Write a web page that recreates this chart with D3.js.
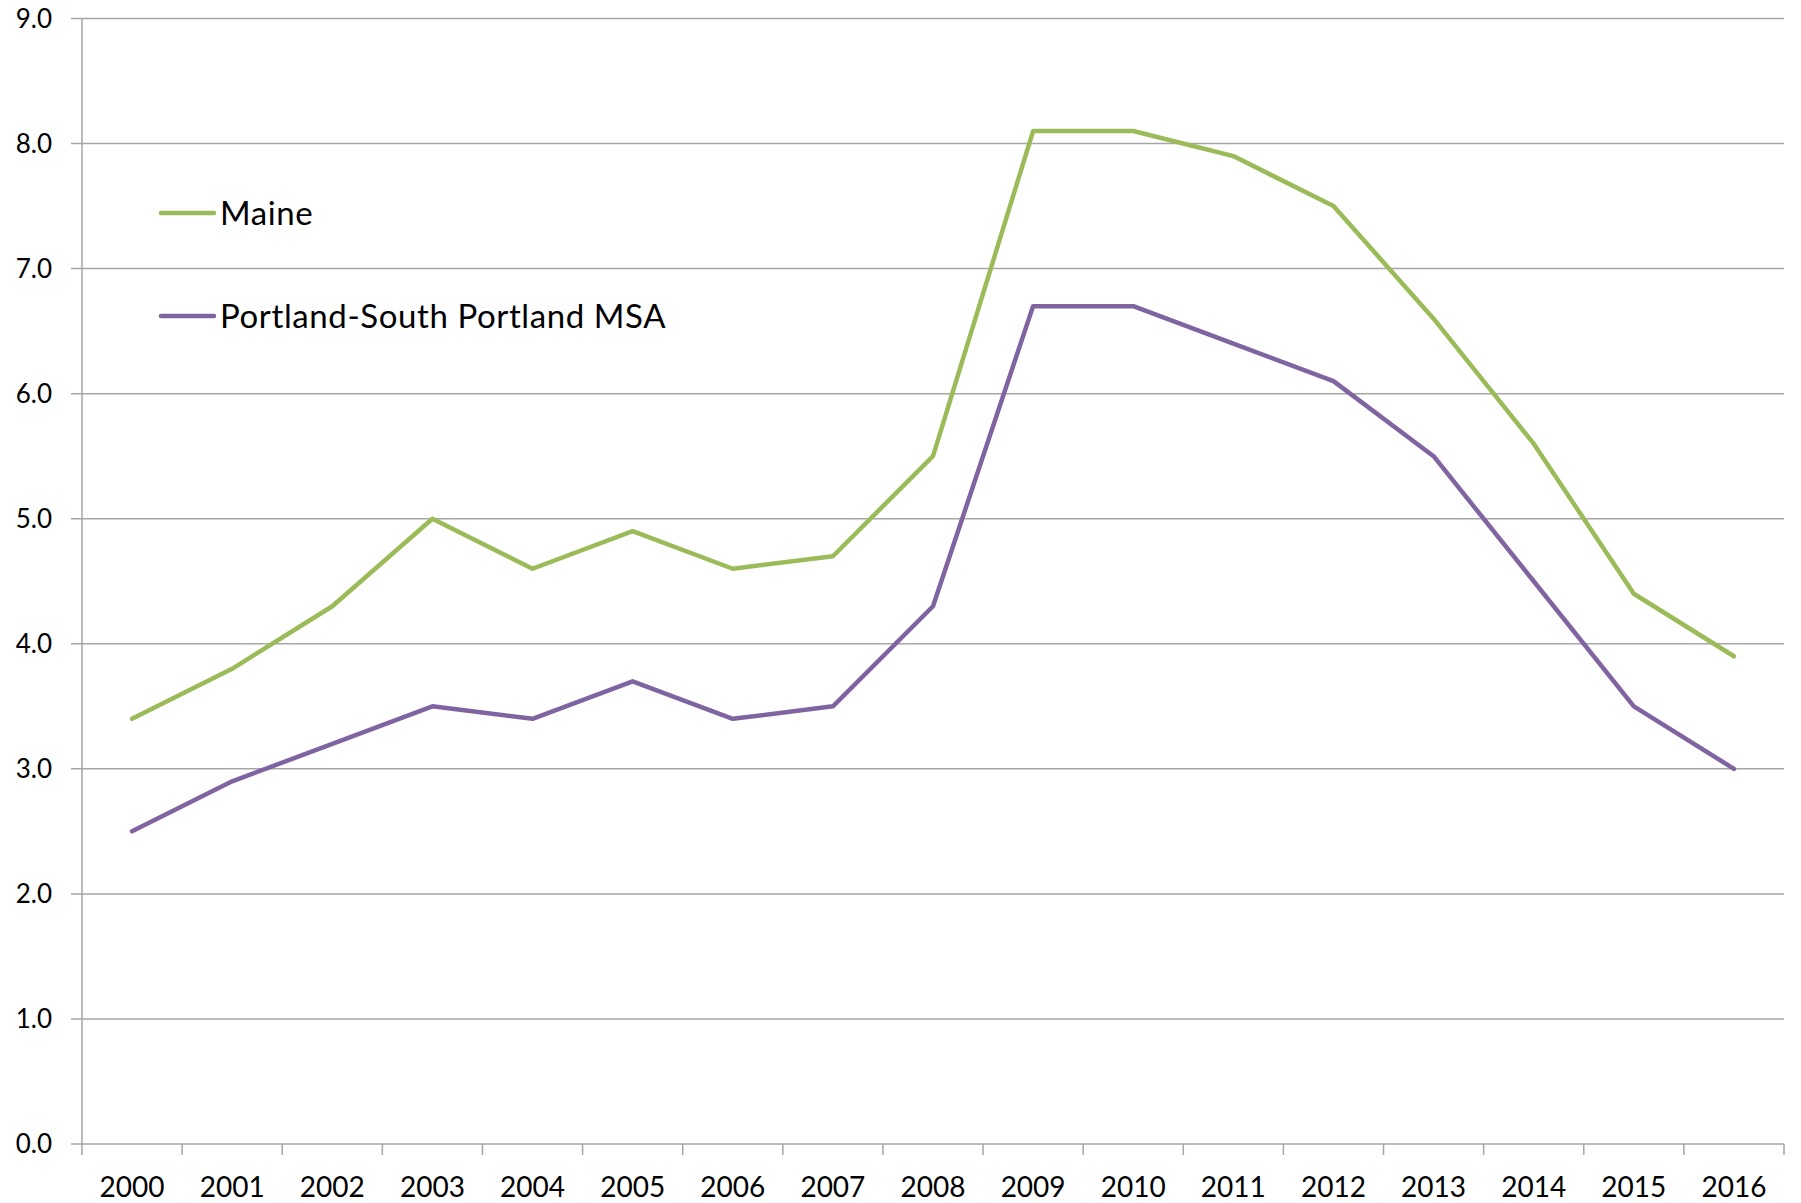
<!DOCTYPE html>
<html>
<head>
<meta charset="utf-8">
<script src="https://cdn.jsdelivr.net/npm/d3@7"></script>
<style>
  body { margin: 0; background: #fff; }
  text { font-family: Lato, "Open Sans", sans-serif; fill: #000; }
</style>
</head>
<body>
<div class="canvas"></div>
<script>
// data
const years = ['2000','2001','2002','2003','2004','2005','2006','2007','2008',
  '2009','2010','2011','2012','2013','2014','2015','2016'];
const maine = [3.4, 3.8, 4.3, 5.0, 4.6, 4.9, 4.6, 4.7, 5.5, 8.1, 8.1, 7.9, 7.5, 6.6, 5.6, 4.4, 3.9];
const portland = [2.5, 2.9, 3.2, 3.5, 3.4, 3.7, 3.4, 3.5, 4.3, 6.7, 6.7, 6.4, 6.1, 5.5, 4.5, 3.5, 3.0];
const seriesNames = ['Maine', 'Portland-South Portland MSA'];
const yTicks = [0, 1, 2, 3, 4, 5, 6, 7, 8, 9];

const dims = { width: 1801, height: 1203 };
const plot = { left: 82, right: 1784, top: 18.5, bottom: 1144 };
const colours = ['#9bbb59', '#8064a2'];
const gridCol = '#a6a6a6';

const svg = d3.select('.canvas')
  .append('svg')
  .attr('width', dims.width)
  .attr('height', dims.height);

const x = d3.scaleBand()
  .domain(years)
  .range([plot.left, plot.right]);

const y = d3.scaleLinear()
  .domain([0, 9])
  .range([plot.bottom, plot.top]);

// horizontal grid lines (with a short tick left of the axis)
svg.append('g')
  .selectAll('line')
  .data(yTicks)
  .enter().append('line')
    .attr('x1', plot.left - 11)
    .attr('x2', plot.right)
    .attr('y1', d => y(d))
    .attr('y2', d => y(d))
    .attr('stroke', gridCol)
    .attr('stroke-width', 1.5);

// y labels
svg.append('g')
  .selectAll('text')
  .data(yTicks)
  .enter().append('text')
    .attr('x', 52)
    .attr('y', d => y(d))
    .attr('dy', '0.36em')
    .attr('text-anchor', 'end')
    .style('font-size', '26px')
    .text(d => d.toFixed(1));

// y axis line
svg.append('line')
  .attr('x1', plot.left).attr('x2', plot.left)
  .attr('y1', plot.top).attr('y2', plot.bottom)
  .attr('stroke', gridCol)
  .attr('stroke-width', 1.5);

// x ticks at the category boundaries
const bounds = years.map(d => x(d)).concat([plot.right]);
svg.append('g')
  .selectAll('line')
  .data(bounds)
  .enter().append('line')
    .attr('x1', d => d).attr('x2', d => d)
    .attr('y1', plot.bottom).attr('y2', plot.bottom + 11)
    .attr('stroke', gridCol)
    .attr('stroke-width', 1.5);

// x labels
svg.append('g')
  .selectAll('text')
  .data(years)
  .enter().append('text')
    .attr('x', d => x(d) + x.bandwidth() / 2)
    .attr('y', 1197)
    .attr('text-anchor', 'middle')
    .style('font-size', '28px')
    .text(d => d);

// lines
const line = d3.line()
  .x((d, i) => x(years[i]) + x.bandwidth() / 2)
  .y(d => y(d));

[maine, portland].forEach((vals, i) => {
  svg.append('path')
    .datum(vals)
    .attr('d', line)
    .attr('fill', 'none')
    .attr('stroke', colours[i])
    .attr('stroke-width', 4.5)
    .attr('stroke-linejoin', 'round')
    .attr('stroke-linecap', 'round');
});

// legend
const legendY = [213, 316];
const legend = svg.append('g');
seriesNames.forEach((name, i) => {
  legend.append('line')
    .attr('x1', 161).attr('x2', 214)
    .attr('y1', legendY[i]).attr('y2', legendY[i])
    .attr('stroke', colours[i])
    .attr('stroke-width', 4.5)
    .attr('stroke-linecap', 'round');
  legend.append('text')
    .attr('x', 220)
    .attr('y', legendY[i])
    .attr('dy', '0.36em')
    .style('font-size', '33px')
    .style('letter-spacing', '0.6px')
    .text(name);
});
</script>
</body>
</html>
